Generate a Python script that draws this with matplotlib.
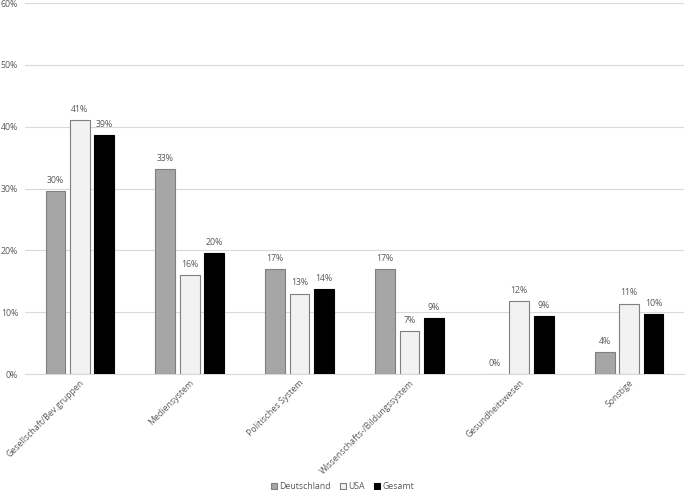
import matplotlib
matplotlib.use("Agg")
import matplotlib.pyplot as plt
import numpy as np

categories = ["Gesellschaft/Bev.gruppen", "Mediensystem", "Politisches System",
              "Wissenschafts-/Bildungssystem", "Gesundheitswesen", "Sonstige"]
deutschland = [29.6, 33.1, 17.0, 17.0, 0.0, 3.5]
usa = [41.0, 16.0, 13.0, 7.0, 11.8, 11.4]
gesamt = [38.7, 19.5, 13.7, 9.0, 9.3, 9.7]
series_names = ["Deutschland", "USA", "Gesamt"]
yticks = [0, 10, 20, 30, 40, 50, 60]

plt.rcParams['font.family'] = ['Open Sans', 'DejaVu Sans']
txt = '#595959'

fig = plt.figure(figsize=(6.85, 4.9), dpi=100)
ax = fig.add_axes([25/685, 1-374/490, 659/685, 371/490])

x = np.arange(len(categories))
w = 0.18
step = 0.222
styles = [dict(color='#a6a6a6', edgecolor='#7f7f7f'),
          dict(color='#f2f2f2', edgecolor='#7f7f7f'),
          dict(color='#000000', edgecolor='#000000')]
for i, (vals, name, st) in enumerate(zip([deutschland, usa, gesamt], series_names, styles)):
    pos = x + (i - 1) * step
    ax.bar(pos, vals, w, label=name, linewidth=0.8, zorder=3, **st)
    for p, v in zip(pos, vals):
        ax.text(p, v + 1.0, f"{v:.0f}%", ha='center', va='bottom', fontsize=6.3, color=txt)

ax.set_xlim(-0.5, len(categories) - 0.5)
ax.set_ylim(0, 60)
ax.set_yticks(yticks)
ax.set_yticklabels([f"{t}%" for t in yticks], fontsize=6.3, color=txt)
ax.grid(axis='y', color='#d9d9d9', linewidth=0.8, zorder=0)
ax.set_xticks(x)
ax.set_xticklabels(categories, rotation=45, ha='right', va='top', rotation_mode='anchor',
                   fontsize=6.3, color=txt)
ax.tick_params(axis='both', length=0, pad=3)
ax.tick_params(axis='y', pad=5)
for s in ['top', 'right', 'left']:
    ax.spines[s].set_visible(False)
ax.spines['bottom'].set_color('#d9d9d9')

leg = fig.legend(loc='lower center', bbox_to_anchor=(0.5, -0.018), ncol=3, frameon=False,
                 fontsize=6.3, handlelength=0.7, handleheight=0.7, handletextpad=0.3,
                 columnspacing=1.0)
for t in leg.get_texts():
    t.set_color(txt)

fig.savefig("out.png", dpi=100)
